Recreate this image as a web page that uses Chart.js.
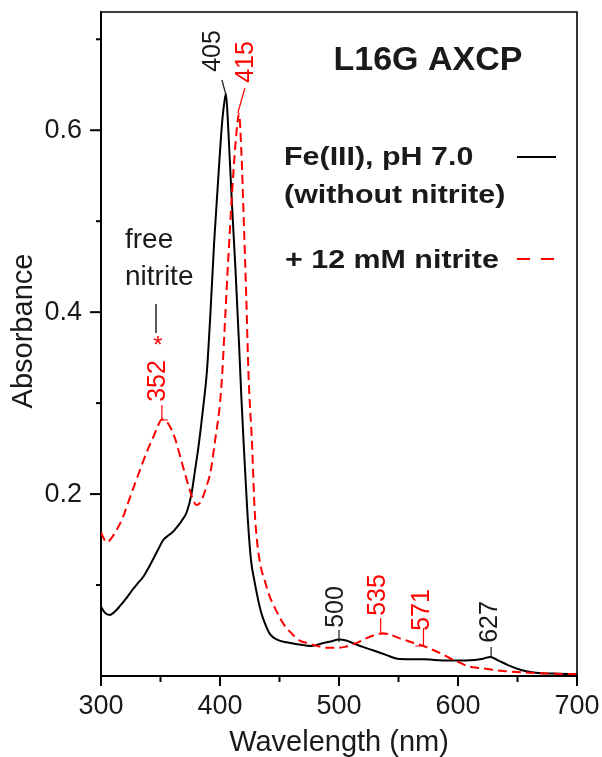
<!DOCTYPE html>
<html>
<head>
<meta charset="utf-8">
<script src="https://cdn.jsdelivr.net/npm/chart.js@4.4.1/dist/chart.umd.min.js"></script>
<style>
  html, body { margin: 0; padding: 0; background: #fff; }
</style>
</head>
<body>
<canvas id="spectrum" width="602" height="757"></canvas>
<script>
// Fe(III), pH 7.0 (without nitrite) - solid black
const wlFe = [300, 303, 307, 311, 316, 321, 326, 331, 336, 340, 344, 348, 352, 356, 360, 364, 368, 372, 376, 379,
  382, 386, 389, 392, 395, 399, 402, 404, 405, 407, 410, 413, 416, 418, 420, 423, 426, 429, 432, 435,
  438, 442, 448, 456, 465, 477, 486, 493, 500, 506, 512, 520, 529, 540, 549, 560, 571, 580, 594, 606,
  614, 621, 627, 634, 642, 653, 662, 670, 685, 700];
const absFe = [0.076, 0.070, 0.067, 0.070, 0.077, 0.085, 0.094, 0.102, 0.110, 0.119, 0.129, 0.139, 0.149, 0.154, 0.158, 0.164, 0.171, 0.180, 0.200, 0.226,
  0.253, 0.297, 0.335, 0.400, 0.475, 0.557, 0.612, 0.634, 0.640, 0.600, 0.520, 0.447, 0.365, 0.305, 0.253, 0.180, 0.128, 0.104, 0.084, 0.068,
  0.057, 0.046, 0.040, 0.037, 0.035, 0.033, 0.036, 0.038, 0.040, 0.039, 0.036, 0.032, 0.028, 0.023, 0.019, 0.0185, 0.0185, 0.0176, 0.017, 0.017,
  0.0175, 0.019, 0.021, 0.017, 0.012, 0.0066, 0.004, 0.003, 0.0025, 0.002];

// + 12 mM nitrite - red dashed
const wlNitrite = [300, 302, 305, 309, 315, 320, 324, 329, 334, 339, 343, 347, 351, 354, 358, 362, 366, 370, 374, 377,
  380, 383, 386, 389, 392, 396, 400, 402, 404, 407, 410, 413, 415, 416, 418, 420, 422, 424, 427, 429,
  431, 434, 438, 441, 448, 454, 460, 467, 474, 482, 490, 498, 505, 510, 516, 522, 530, 537, 544, 552,
  559, 566, 573, 580, 587, 594, 601, 608, 616, 625, 633, 642, 653, 664, 680, 700];
const absNitrite = [0.158, 0.152, 0.147, 0.152, 0.165, 0.180, 0.195, 0.213, 0.231, 0.248, 0.260, 0.272, 0.282, 0.281, 0.274, 0.262, 0.244, 0.225, 0.207, 0.195,
  0.188, 0.190, 0.198, 0.210, 0.224, 0.260, 0.300, 0.335, 0.385, 0.460, 0.528, 0.585, 0.612, 0.618, 0.575, 0.500, 0.420, 0.330, 0.253, 0.185,
  0.150, 0.122, 0.103, 0.090, 0.070, 0.056, 0.047, 0.039, 0.036, 0.033, 0.031, 0.031, 0.032, 0.034, 0.037, 0.041, 0.045, 0.047, 0.045, 0.041,
  0.038, 0.035, 0.032, 0.028, 0.024, 0.019, 0.015, 0.011, 0.009, 0.0077, 0.006, 0.005, 0.004, 0.0033, 0.0025, 0.002];

const xMajor = [300, 400, 500, 600, 700];
const xMinor = [350, 450, 550, 650];
const yMajor = [0.2, 0.4, 0.6];
const yMinor = [0.1, 0.3, 0.5, 0.7];

const feLegend = ['Fe(III), pH 7.0', '(without nitrite)'];
const nitriteLegend = ['+ 12 mM nitrite'];
const title = 'L16G AXCP';
const feePeaks = [405, 500, 627];
const nitritePeaks = [352, 415, 535, 571];

const FONT = "'Liberation Sans', Arial, sans-serif";
const INK = '#1a1a1a';
const RED = '#ff0000';

function line(ctx, pts) {
  ctx.beginPath();
  ctx.moveTo(pts[0][0], pts[0][1]);
  for (let i = 1; i < pts.length; i++) ctx.lineTo(pts[i][0], pts[i][1]);
  ctx.stroke();
}

function upText(ctx, text, cx, cy) {
  ctx.save();
  ctx.translate(cx, cy);
  ctx.rotate(-Math.PI / 2);
  ctx.textAlign = 'center';
  ctx.textBaseline = 'middle';
  ctx.fillText(text, 0, 0);
  ctx.restore();
}

function wideText(ctx, text, x, y, sx) {
  ctx.save();
  ctx.translate(x, y);
  ctx.scale(sx, 1);
  ctx.fillText(text, 0, 0);
  ctx.restore();
}

// drop the automatic edge padding so the plot box sits where the layout padding says
function noEdgePad(s) {
  s.paddingLeft = 0;
  s.paddingRight = 0;
  s.paddingTop = 0;
  s.paddingBottom = 0;
}

// label spot, leader path relative to the peak's x pixel
const peakSpots = {
  405: {dx: -12.5, y: 51, lead: [[-4, 80], [0, 95]]},
  500: {dx: -3, y: 607, lead: [[0, 630], [0, 642]]},
  627: {dx: 0, y: 622, lead: [[1, 647], [1, 657]]},
  352: {dx: -5, y: 381, lead: [[-1, 405], [-1, 420], [5, 420]]},
  415: {dx: 8.5, y: 62, lead: [[7, 88], [0, 113]]},
  535: {dx: -3, y: 595, lead: [[0, 618], [0, 634], [8, 634]]},
  571: {dx: -1, y: 610, lead: [[0, 628], [0, 646], [-8, 646]]}
};

const decorations = {
  id: 'decorations',
  afterDraw(chart) {
    const {ctx, chartArea: a, scales: {x, y}} = chart;
    ctx.save();
    ctx.strokeStyle = '#000';
    ctx.lineCap = 'butt';

    // frame top + right
    ctx.lineWidth = 1.6;
    line(ctx, [[a.left, a.top], [a.right, a.top], [a.right, a.bottom]]);

    // tick marks
    ctx.lineWidth = 2;
    xMajor.forEach(v => { const p = x.getPixelForValue(v); line(ctx, [[p, a.bottom], [p, a.bottom + 10]]); });
    xMinor.forEach(v => { const p = x.getPixelForValue(v); line(ctx, [[p, a.bottom], [p, a.bottom + 6]]); });
    yMajor.forEach(v => { const p = y.getPixelForValue(v); line(ctx, [[a.left - 11, p], [a.left, p]]); });
    yMinor.forEach(v => { const p = y.getPixelForValue(v); line(ctx, [[a.left - 5, p], [a.left, p]]); });

    // y axis title
    ctx.fillStyle = INK;
    ctx.font = `29px ${FONT}`;
    upText(ctx, 'Absorbance', 24, 331);

    // title
    ctx.font = `bold 34px ${FONT}`;
    ctx.textAlign = 'center';
    ctx.textBaseline = 'alphabetic';
    ctx.fillText(title, 428, 70);

    // legend
    ctx.textAlign = 'left';
    ctx.font = `bold 26px ${FONT}`;
    wideText(ctx, feLegend[0], 284, 165, 1.17);
    wideText(ctx, feLegend[1], 284, 203, 1.17);
    wideText(ctx, nitriteLegend[0], 285, 268, 1.17);
    ctx.lineWidth = 2;
    ctx.strokeStyle = '#000';
    line(ctx, [[517, 157], [556, 157]]);
    ctx.strokeStyle = RED;
    line(ctx, [[517, 259], [530, 259]]);
    line(ctx, [[541, 259], [554, 259]]);

    // free nitrite note
    ctx.fillStyle = INK;
    ctx.font = `28px ${FONT}`;
    ctx.fillText('free', 125, 248);
    ctx.fillText('nitrite', 125, 285);
    ctx.strokeStyle = '#000';
    ctx.lineWidth = 1.3;
    line(ctx, [[156, 304], [156, 333]]);
    ctx.fillStyle = RED;
    ctx.font = `24px ${FONT}`;
    ctx.textAlign = 'center';
    ctx.fillText('*', 158, 353);

    // peak labels
    ctx.font = `25px ${FONT}`;
    ctx.lineWidth = 1.2;
    const mark = (peaks, color) => {
      peaks.forEach(wl => {
        const s = peakSpots[wl];
        const px = x.getPixelForValue(wl);
        ctx.fillStyle = color;
        ctx.strokeStyle = color;
        upText(ctx, String(wl), px + s.dx, s.y);
        line(ctx, s.lead.map(p => [px + p[0], p[1]]));
      });
    };
    mark(feePeaks, INK);
    mark(nitritePeaks, RED);
    ctx.restore();
  }
};

new Chart(document.getElementById('spectrum'), {
  type: 'line',
  data: {
    datasets: [
      {
        label: feLegend.join(' '),
        data: wlFe.map((w, i) => ({x: w, y: absFe[i]})),
        borderColor: '#000',
        borderWidth: 2,
        pointRadius: 0,
        cubicInterpolationMode: 'monotone',
        order: 1
      },
      {
        label: nitriteLegend[0],
        data: wlNitrite.map((w, i) => ({x: w, y: absNitrite[i]})),
        borderColor: RED,
        borderWidth: 2,
        borderDash: [9, 5],
        pointRadius: 0,
        cubicInterpolationMode: 'monotone',
        order: 0
      }
    ]
  },
  options: {
    responsive: false,
    animation: false,
    devicePixelRatio: 1,
    layout: {padding: {left: 0, top: 12, right: 25, bottom: 0}},
    plugins: {legend: {display: false}, tooltip: {enabled: false}},
    scales: {
      x: {
        type: 'linear',
        min: 300,
        max: 700,
        afterFit: s => { s.height = 81; noEdgePad(s); },
        border: {display: true, color: '#000', width: 2},
        grid: {drawOnChartArea: false, drawTicks: false},
        ticks: {stepSize: 100, autoSkip: false, maxRotation: 0, color: INK, padding: 14, font: {family: FONT, size: 27}},
        title: {display: true, text: 'Wavelength (nm)', color: INK, padding: 0, font: {family: FONT, size: 29, lineHeight: 1}}
      },
      y: {
        type: 'linear',
        min: 0,
        max: 0.73,
        afterFit: s => { s.width = 101; noEdgePad(s); },
        border: {display: true, color: '#000', width: 2},
        grid: {drawOnChartArea: false, drawTicks: false},
        ticks: {
          stepSize: 0.2,
          autoSkip: false,
          color: INK,
          padding: 19,
          font: {family: FONT, size: 27},
          callback: v => yMajor.some(m => Math.abs(m - v) < 1e-6) ? v.toFixed(1) : ''
        }
      }
    }
  },
  plugins: [decorations]
});
</script>
</body>
</html>
